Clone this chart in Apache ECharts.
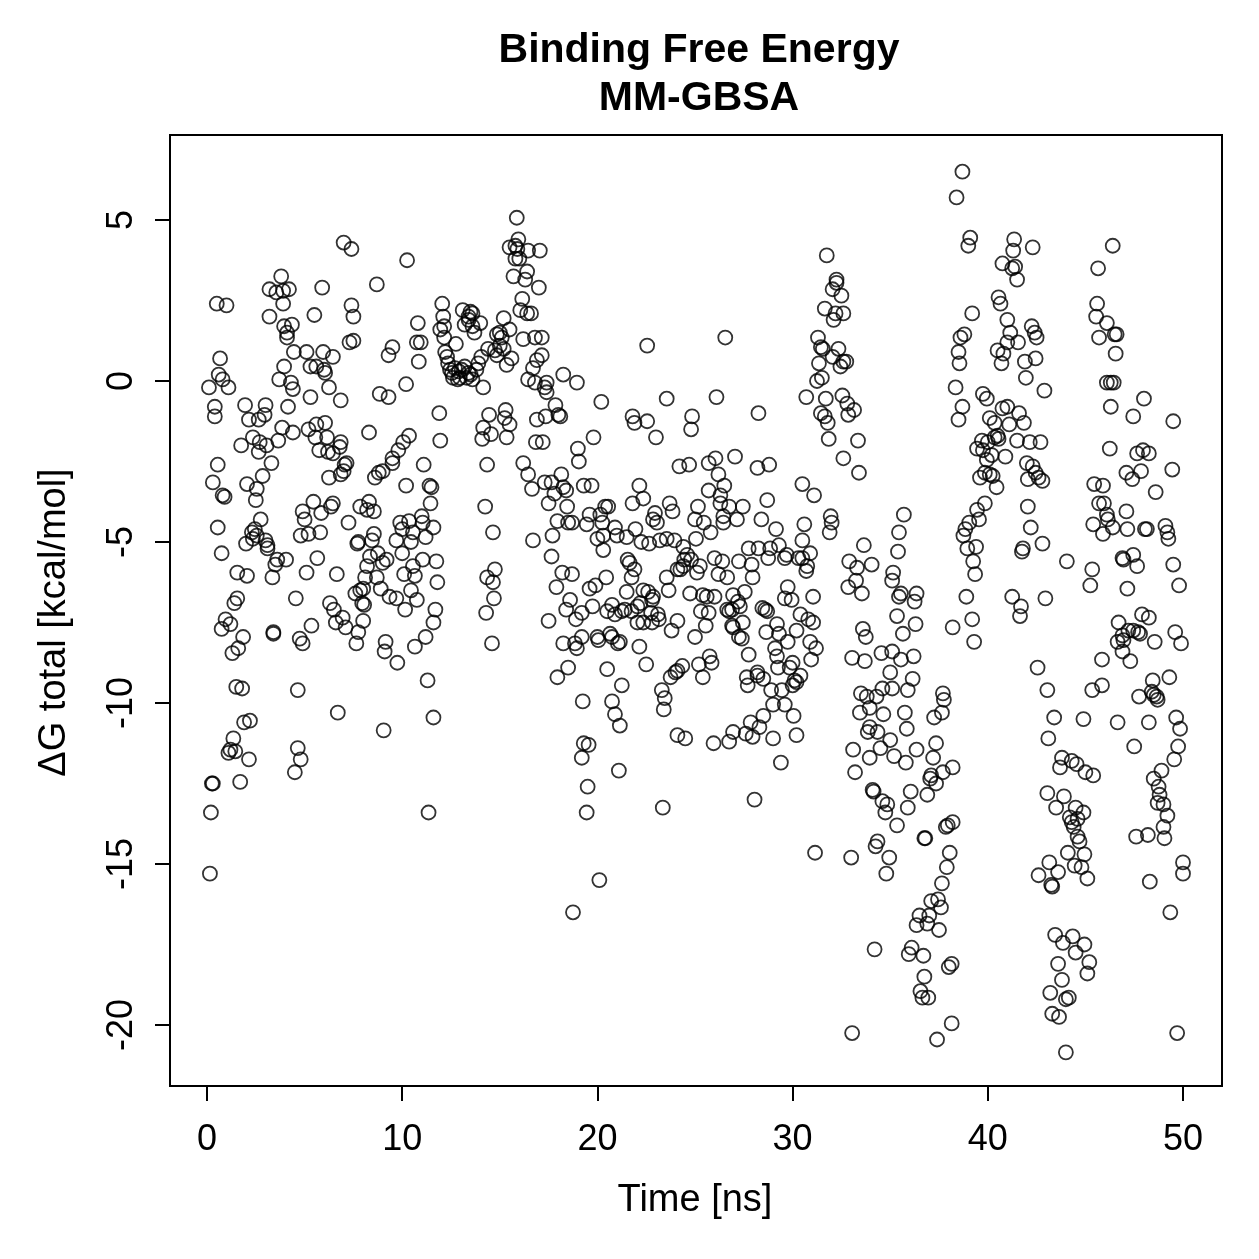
<!DOCTYPE html>
<html>
<head>
<meta charset="utf-8">
<title>Binding Free Energy MM-GBSA</title>
<script src="https://cdn.jsdelivr.net/npm/echarts@6/dist/echarts.min.js"></script>
<style>
  html, body { margin: 0; padding: 0; background: #fff; }
  #chart { width: 1259px; height: 1259px; }
</style>
</head>
<body>
<div id="chart"></div>
<script>
// [time ns, dG total kcal/mol], split by 10 ns windows
const frames0to10 = [
  [7.0,4.3],[7.4,4.1],[3.8,3.25],[3.2,2.85],[3.55,2.75],[3.9,2.8],[4.2,2.85],[3.9,2.4],[5.9,2.9],[8.7,3.0],
  [0.5,2.4],[1.0,2.35],[3.2,2.0],[5.5,2.05],[7.4,2.35],[7.5,2.0],[3.95,1.7],[4.35,1.75],[4.1,1.5],[4.1,1.35],
  [7.3,1.2],[7.5,1.25],[9.5,1.05],[9.3,0.8],[0.67,0.7],[0.6,0.2],[0.8,0.05],[1.1,-0.2],[0.1,-0.2],[4.45,0.9],
  [5.1,0.9],[5.95,0.9],[6.45,0.75],[3.95,0.45],[3.7,0.05],[4.3,-0.05],[4.4,-0.25],[5.3,0.45],[5.6,0.45],[6.0,0.35],
  [6.05,0.25],[6.25,-0.2],[6.85,-0.6],[5.3,-0.5],[4.15,-0.8],[8.85,-0.4],[9.3,-0.5],[0.4,-0.8],[0.4,-1.1],[1.95,-0.75],
  [3.0,-0.75],[2.15,-1.2],[2.65,-1.2],[2.95,-1.05],[3.85,-1.45],[4.4,-1.6],[5.2,-1.5],[5.6,-1.35],[6.05,-1.3],[6.15,-1.75],
  [5.55,-1.75],[6.85,-1.9],[6.8,-2.05],[8.3,-1.6],[9.8,-2.15],[2.35,-1.75],[2.7,-1.9],[3.05,-2.0],[2.65,-2.2],[1.75,-2.0],
  [3.65,-1.85],[3.3,-2.55],[5.75,-2.15],[6.2,-2.2],[6.45,-2.25],[7.15,-2.55],[7.05,-2.6],[9.5,-2.4],[9.5,-2.55],[0.55,-2.6],
  [0.3,-3.15],[0.8,-3.55],[0.9,-3.6],[2.05,-3.2],[2.55,-3.35],[2.85,-2.95],[2.5,-3.7],[6.25,-3.0],[6.85,-2.9],[7.0,-2.8],
  [8.6,-3.0],[8.8,-2.85],[9.0,-2.8],[0.55,-4.55],[0.75,-5.35],[2.75,-4.3],[2.3,-4.7],[2.45,-4.6],[2.55,-4.8],[2.35,-4.9],
  [2.0,-5.05],[3.0,-4.95],[3.1,-5.1],[3.1,-5.2],[3.6,-5.55],[4.05,-5.55],[3.5,-5.7],[3.35,-6.1],[1.55,-5.95],[2.05,-6.05],
  [5.45,-3.75],[4.9,-4.05],[5.0,-4.3],[5.85,-4.1],[6.45,-3.8],[6.35,-3.9],[7.25,-4.4],[4.8,-4.8],[5.2,-4.75],[5.8,-4.7],
  [5.65,-5.5],[5.1,-5.95],[6.65,-6.0],[7.85,-3.9],[8.3,-3.75],[8.2,-4.0],[8.55,-4.05],[7.75,-5.0],[7.7,-5.05],[8.55,-4.75],
  [8.45,-4.95],[8.35,-5.45],[8.2,-5.75],[8.75,-5.35],[9.2,-5.55],[9.0,-5.65],[8.1,-6.1],[8.7,-6.1],[9.9,-4.4],[9.7,-4.95],
  [8.9,-6.45],[9.35,-6.7],[9.7,-6.75],[7.6,-6.6],[7.85,-6.5],[8.0,-6.45],[7.95,-6.9],[8.05,-6.95],[6.3,-6.9],[6.5,-7.1],
  [6.95,-7.35],[6.6,-7.5],[7.1,-7.65],[7.75,-7.8],[8.0,-7.45],[4.55,-6.75],[1.55,-6.75],[1.4,-6.9],[0.95,-7.4],[1.2,-7.55],
  [0.75,-7.7],[1.85,-7.95],[1.6,-8.3],[1.3,-8.45],[3.4,-7.8],[3.4,-7.85],[4.75,-8.0],[4.9,-8.15],[5.35,-7.6],[7.65,-8.15],
  [9.15,-8.1],[9.1,-8.4],[9.75,-8.75],[1.5,-9.5],[1.8,-9.55],[4.65,-9.6],[6.7,-10.3],[9.05,-10.85],[1.9,-10.6],[2.2,-10.55],
  [1.35,-11.1],[1.1,-11.55],[1.45,-11.5],[1.2,-11.45],[2.15,-11.75],[4.65,-11.4],[4.8,-11.75],[4.5,-12.15],[0.25,-12.5],[0.3,-12.5],
  [1.7,-12.45],[0.2,-13.4],[0.15,-15.3]
];

const frames10to20 = [
  [10.25,3.75],[10.8,1.8],[10.75,1.2],[10.95,1.2],[10.85,0.6],[10.2,-0.1],[10.35,-1.7],[10.05,-1.9],[11.1,-2.6],[10.2,-3.25],
  [11.4,-3.25],[11.5,-3.3],[11.45,-3.8],[10.0,-4.6],[10.35,-4.35],[10.55,-4.7],[11.0,-4.2],[11.05,-4.4],[11.6,-4.55],[11.2,-4.85],
  [10.45,-5.0],[10.0,-5.35],[11.05,-5.55],[10.55,-5.75],[10.1,-6.0],[10.65,-6.05],[10.45,-6.5],[10.75,-6.8],[10.15,-7.1],[10.65,-8.25],
  [11.2,-7.95],[11.3,-9.3],[11.6,-10.45],[11.75,-5.6],[11.8,-6.25],[11.7,-7.1],[11.6,-7.5],[11.35,-13.4],
  [15.87,5.07],[15.95,4.4],[15.8,4.2],[15.5,4.15],[15.9,4.1],[16.45,4.05],[17.05,4.05],[15.8,3.8],[16.0,3.8],[16.4,3.4],
  [15.7,3.25],[16.3,3.15],[17.0,2.9],[16.15,2.55],[16.05,2.2],[16.4,2.1],[16.6,2.1],[12.05,2.4],[12.1,2.0],[11.95,1.6],
  [12.15,1.7],[12.15,1.35],[13.1,2.2],[13.5,2.15],[13.6,2.1],[13.4,2.0],[13.2,1.75],[13.6,1.7],[14.0,1.8],[13.7,1.5],
  [13.4,1.9],[15.2,1.95],[14.85,1.45],[15.0,1.5],[15.1,1.35],[15.5,1.6],[16.2,1.3],[16.8,1.35],[17.15,1.35],[12.75,1.15],
  [12.2,0.9],[12.3,0.75],[12.35,0.55],[12.45,0.35],[12.6,0.1],[12.85,0.05],[13.05,0.35],[13.2,0.45],[13.3,0.1],[13.6,0.05],
  [13.8,0.35],[13.9,0.55],[14.05,0.75],[14.4,1.0],[14.75,0.95],[15.0,1.1],[15.2,1.0],[14.85,0.8],[15.6,0.7],[15.35,0.5],
  [14.15,-0.2],[12.55,0.25],[12.7,0.4],[12.95,0.1],[13.4,0.25],[12.9,0.3],[13.5,0.2],[16.7,0.4],[16.9,0.65],[17.15,0.8],
  [16.45,0.05],[16.8,-0.05],[17.4,-0.05],[17.3,-0.2],[17.4,-0.35],[18.25,0.2],[18.95,-0.05],[17.85,-0.75],[18.0,-1.05],[18.1,-1.1],
  [11.9,-1.0],[11.95,-1.85],[14.45,-1.05],[15.3,-0.9],[15.25,-1.15],[15.5,-1.35],[15.35,-1.75],[14.15,-1.45],[14.1,-1.8],[14.55,-1.65],
  [16.9,-1.2],[17.35,-1.1],[16.85,-1.9],[17.2,-1.9],[19.8,-1.75],[19.0,-2.1],[19.05,-2.5],[14.35,-2.6],[16.2,-2.55],
  [16.45,-2.9],[16.65,-3.35],[17.3,-3.15],[17.65,-3.15],[18.15,-2.9],[17.8,-3.5],[18.25,-3.3],[18.4,-3.4],[17.5,-3.8],[18.45,-3.9],
  [19.3,-3.25],[19.7,-3.25],[17.95,-4.35],[18.5,-4.4],[18.7,-4.4],[19.45,-4.45],[19.6,-4.15],[17.7,-4.8],[17.65,-5.45],[16.7,-4.95],
  [14.65,-4.7],[14.25,-3.9],[14.35,-6.1],[14.75,-5.85],[14.65,-6.25],[14.7,-6.75],[14.3,-7.2],[14.6,-8.15],[18.2,-5.95],[18.7,-6.0],
  [17.9,-6.4],[19.6,-6.45],[19.9,-6.35],[18.6,-6.8],[18.4,-7.1],[18.9,-7.4],[19.2,-7.2],[17.5,-7.45],[19.75,-7.0],[18.25,-8.15],
  [18.85,-8.15],[18.95,-8.3],[19.2,-7.95],[17.95,-9.2],[18.5,-8.9],[19.25,-9.95],[19.3,-11.25],[19.55,-11.3],[19.2,-11.7],[19.5,-12.6],
  [19.45,-13.4],[18.75,-16.5]
];

const frames20to30 = [
  [20.2,-0.65],[22.55,1.1],[23.55,-0.55],[21.8,-1.1],[21.9,-1.3],[22.55,-1.25],[23.0,-1.75],[24.85,-1.1],[24.8,-1.5],[24.2,-2.65],
  [24.7,-2.6],[26.55,1.35],[26.1,-0.5],[28.25,-1.0],[26.05,-2.4],[25.7,-2.55],[27.05,-2.35],[28.8,-2.6],[28.2,-2.7],
  [22.15,-3.25],[22.35,-3.65],[21.8,-3.8],[23.7,-3.8],[23.85,-4.05],[22.95,-4.1],[23.05,-4.4],[22.85,-4.3],[20.15,-4.15],[20.25,-4.4],
  [20.4,-3.9],[20.55,-3.9],[20.9,-4.55],[21.0,-4.8],[21.5,-4.85],[21.95,-4.6],[22.25,-5.0],[22.65,-5.05],[20.0,-4.9],[20.3,-4.8],
  [20.3,-5.25],[23.2,-4.95],[23.55,-4.9],[23.95,-4.95],[24.4,-5.15],[24.6,-5.4],[24.45,-5.55],[24.8,-5.55],[24.25,-5.85],[24.4,-5.75],
  [24.1,-5.85],[23.55,-6.1],[24.75,-6.6],[21.55,-5.55],[21.65,-5.65],[21.9,-5.85],[21.75,-6.1],[20.45,-6.1],[21.5,-6.55],[22.35,-6.5],
  [22.6,-6.55],[22.85,-6.7],[22.8,-6.8],[23.65,-6.5],[20.5,-7.15],[20.75,-6.95],[20.9,-7.25],[21.25,-7.15],[21.4,-7.1],[21.75,-7.15],
  [22.05,-7.0],[22.2,-6.9],[22.05,-7.5],[22.35,-7.5],[22.8,-7.5],[22.75,-7.2],[23.1,-7.25],[23.15,-7.4],[24.1,-7.45],[23.8,-7.75],
  [20.0,-7.95],[20.05,-8.05],[20.65,-7.85],[20.75,-7.95],[21.15,-8.1],[21.05,-8.15],[22.15,-8.25],[22.5,-8.8],[20.5,-8.95],[21.25,-9.45],
  [24.1,-9.0],[24.0,-9.05],[23.75,-9.2],[24.35,-8.85],[23.3,-9.6],[23.45,-9.85],[23.4,-10.2],[20.75,-9.95],[20.9,-10.35],[21.15,-10.7],
  [24.1,-11.0],[24.5,-11.1],[21.1,-12.1],
  [26.2,-2.9],[25.7,-3.4],[26.5,-3.25],[26.3,-3.55],[26.3,-3.8],[26.75,-3.9],[27.45,-3.9],[26.45,-4.2],[25.15,-3.9],[25.0,-4.3],
  [25.45,-4.4],[27.15,-4.3],[26.45,-4.4],[25.8,-4.7],[28.7,-3.7],[28.4,-4.3],[29.15,-4.6],[25.05,-4.9],[27.75,-5.2],[28.25,-5.2],
  [28.85,-5.2],[29.3,-5.1],[29.7,-5.4],[29.6,-5.5],[28.75,-5.5],[27.25,-5.6],[27.9,-5.7],[27.95,-6.1],[26.0,-5.5],[26.4,-5.6],
  [25.25,-5.75],[25.1,-5.95],[26.2,-6.0],[26.65,-6.1],[25.4,-6.65],[25.6,-6.7],[26.0,-6.7],[26.95,-6.65],[27.55,-6.55],[27.2,-6.85],
  [27.3,-7.0],[26.65,-7.1],[26.75,-7.15],[26.9,-7.1],[25.3,-7.15],[25.7,-7.2],[25.55,-7.6],[25.0,-7.95],[26.9,-7.6],[26.95,-7.65],
  [27.45,-7.5],[27.25,-7.95],[27.4,-8.0],[28.45,-7.05],[28.6,-7.1],[28.7,-7.15],[29.75,-6.4],[29.6,-6.75],[29.95,-6.8],[29.2,-7.55],
  [29.3,-7.85],[28.65,-7.8],[29.75,-8.1],[29.1,-8.3],[29.2,-8.55],[29.25,-8.9],[29.85,-8.9],[27.75,-8.5],[25.2,-8.8],[25.85,-8.75],
  [25.75,-8.55],[25.4,-9.2],[27.65,-9.2],[27.7,-9.45],[28.2,-9.05],[28.2,-9.15],[28.5,-9.25],[28.9,-9.6],[29.45,-9.6],[29.0,-10.05],
  [29.6,-10.05],[28.5,-10.4],[27.85,-10.6],[28.3,-10.75],[27.6,-10.95],[27.95,-11.05],[26.95,-10.9],[26.75,-11.2],[25.95,-11.25],[29.0,-11.1],
  [29.4,-11.85],[20.1,-15.5],[23.35,-13.25],[28.05,-13.0]
];

const frames30to40 = [
  [31.75,3.9],[32.25,3.15],[32.25,3.05],[32.05,2.85],[32.5,2.65],[31.65,2.25],[32.2,2.1],[32.6,2.1],[32.1,1.9],[31.3,1.35],
  [31.45,1.05],[31.55,1.0],[32.35,1.0],[32.05,0.75],[32.6,0.6],[32.75,0.6],[32.45,0.45],[31.35,0.55],[31.5,0.1],[31.25,0.0],
  [30.7,-0.5],[31.7,-0.55],[32.55,-0.45],[32.8,-0.7],[33.15,-0.9],[32.85,-1.05],[31.45,-1.0],[31.65,-1.1],[31.8,-1.3],[31.85,-1.8],
  [33.35,-1.85],[32.6,-2.4],
  [38.7,6.5],[38.4,5.7],[39.1,4.45],[39.0,4.2],[39.2,2.1],[38.8,1.45],[38.6,1.35],[38.5,0.9],[38.55,0.55],[38.35,-0.2],
  [38.7,-0.8],[38.5,-1.2],[39.75,-0.4],[39.95,-0.55],[39.7,-1.85],[39.45,-2.1],[39.75,-2.15],[39.95,-2.45],
  [33.4,-2.85],[30.5,-3.2],[31.1,-3.55],[31.95,-4.2],[32.0,-4.4],[31.9,-4.7],[30.6,-4.45],[35.7,-4.15],[35.45,-4.7],[35.4,-5.3],
  [33.65,-5.1],[34.05,-5.7],[32.9,-5.6],[33.3,-5.8],[33.25,-6.2],[32.85,-6.4],[33.55,-6.6],[30.5,-4.95],[30.9,-5.35],[30.5,-5.5],
  [30.75,-5.75],[30.7,-5.9],[30.3,-5.5],[31.05,-6.7],[30.4,-7.25],[30.8,-7.4],[31.05,-7.5],[30.2,-7.75],[30.9,-8.1],[31.2,-8.3],
  [30.95,-8.65],[30.0,-8.75],[30.4,-9.15],[30.1,-9.3],[30.0,-9.45],[30.2,-9.35],[30.05,-10.4],[30.2,-11.0],[33.6,-7.7],[33.75,-7.95],
  [33.05,-8.6],[33.7,-8.7],[34.55,-8.45],[35.1,-8.4],[35.55,-8.65],[36.2,-8.55],[35.0,-9.05],[36.15,-9.25],[35.9,-9.6],[35.1,-9.55],
  [34.6,-9.55],[33.5,-9.7],[33.8,-9.8],[34.3,-9.8],[33.95,-10.15],[33.45,-10.3],[34.65,-10.35],[35.75,-10.3],[35.85,-10.8],[35.0,-11.15],
  [34.5,-11.4],[35.2,-11.65],[35.8,-11.85],[33.95,-10.75],[33.85,-10.9],[34.35,-10.9],[33.1,-11.45],[33.95,-11.7],[33.2,-12.15],[37.35,-11.25],
  [37.2,-11.7],[37.1,-12.25],[37.7,-12.15],[38.2,-12.0],[37.65,-10.3],[37.25,-10.45],[37.75,-9.9],[37.7,-9.7],[38.2,-7.65],[36.35,-11.45],
  [35.15,-5.95],[35.1,-6.2],[35.55,-6.6],[35.45,-6.7],[36.35,-6.6],[36.25,-6.85],[35.35,-7.3],[36.3,-7.55],[35.65,-7.85],
  [39.6,-3.0],[39.85,-2.85],[39.85,-3.8],[39.45,-4.0],[39.55,-4.3],[39.05,-4.4],[38.85,-4.6],[38.75,-4.8],[38.95,-5.2],[39.4,-5.15],
  [39.25,-5.6],[39.35,-6.0],[38.9,-6.7],[39.2,-7.4],[39.3,-8.1],
  [31.15,-14.65],[33.0,-14.8],[34.1,-12.7],[34.15,-12.75],[34.6,-13.05],[34.85,-13.15],[34.75,-13.4],[35.35,-13.8],[36.05,-12.75],[35.9,-13.25],
  [36.9,-12.85],[37.05,-12.35],[37.35,-12.5],[34.35,-14.3],[34.25,-14.45],[34.95,-14.8],[34.8,-15.3],[36.75,-14.2],[36.8,-14.2],[37.85,-13.85],
  [37.95,-13.8],[38.2,-13.7],[38.05,-14.65],[37.9,-15.1],[37.65,-15.6],[37.1,-16.15],[37.45,-16.1],[37.6,-16.35],[37.0,-16.6],[36.5,-16.6],
  [36.35,-16.9],[36.9,-16.85],[37.5,-17.05],[36.1,-17.6],[35.95,-17.8],[36.7,-17.85],[34.2,-17.65],[38.15,-18.1],[38.0,-18.2],[36.75,-18.5],
  [36.55,-18.95],[36.65,-19.15],[36.95,-19.15],[33.05,-20.25],[37.4,-20.45],[38.15,-19.95]
];

const frames40to50 = [
  [41.35,4.4],[41.3,4.05],[42.3,4.15],[40.75,3.65],[41.4,3.55],[41.25,3.5],[41.5,3.15],[46.4,4.2],[45.65,3.5],[40.55,2.6],
  [40.65,2.4],[41.0,1.9],[45.6,2.4],[45.55,2.0],[46.1,1.8],[45.7,1.35],[46.5,1.45],[46.6,1.45],[46.55,0.85],[42.25,1.7],
  [42.4,1.5],[42.5,1.35],[41.15,1.5],[41.0,1.2],[41.55,1.2],[40.5,0.95],[40.8,0.85],[40.7,0.55],[41.9,0.6],[42.45,0.7],
  [41.95,0.1],[42.9,-0.3],[40.1,-1.15],[40.35,-1.3],[40.75,-0.85],[41.0,-0.8],[41.1,-1.35],[41.6,-1.0],[41.85,-1.3],[40.0,-1.9],
  [40.35,-1.75],[40.5,-1.7],[40.55,-1.8],[40.2,-2.3],[40.9,-2.35],[41.5,-1.85],[42.15,-1.9],[42.7,-1.9],[42.0,-2.55],[42.3,-2.65],
  [46.3,-0.05],[46.1,-0.05],[46.45,-0.05],[46.3,-0.8],[48.0,-0.55],[47.45,-1.1],[49.5,-1.25],[46.25,-2.1],[47.65,-2.25],[47.95,-2.15],
  [48.25,-2.25],
  [42.45,-2.85],[42.6,-3.0],[42.8,-3.1],[42.05,-3.05],[40.1,-2.9],[40.25,-2.95],[40.45,-3.3],[42.05,-3.9],[42.2,-4.55],[41.8,-5.2],
  [41.75,-5.3],[42.8,-5.05],[44.05,-5.6],[45.45,-3.2],[45.9,-3.25],[45.7,-3.8],[45.95,-3.8],[46.1,-4.15],[46.15,-4.3],[45.4,-4.45],
  [45.9,-4.75],[46.4,-4.55],[47.1,-4.05],[47.15,-4.6],[48.05,-4.6],[48.15,-4.6],[47.1,-2.85],[47.4,-3.05],[47.85,-2.8],[48.6,-3.45],
  [49.45,-2.75],[49.1,-4.5],[49.2,-4.7],[49.25,-4.9],[47.45,-5.4],[46.9,-5.5],[46.95,-5.55],[47.65,-5.75],[49.5,-5.7],[45.35,-5.85],
  [45.25,-6.35],[47.15,-6.45],[49.8,-6.35],[41.25,-6.7],[41.7,-7.0],[41.65,-7.3],[42.95,-6.75],[47.9,-7.25],[48.25,-7.35],[46.7,-7.5],
  [47.2,-7.75],[47.45,-7.75],[47.7,-7.8],[47.8,-7.85],[46.9,-7.9],[46.65,-8.1],[46.95,-8.05],[46.9,-8.4],[47.3,-8.7],[48.55,-8.1],
  [49.6,-7.8],[49.9,-8.15],[45.85,-8.65],[42.55,-8.9],[43.05,-9.6],[45.35,-9.6],[45.85,-9.45],[48.45,-9.3],[49.3,-9.2],[47.75,-9.8],
  [48.4,-9.65],[48.65,-9.8],[48.7,-9.9],[48.5,-9.75],[43.4,-10.45],[43.1,-11.1],[44.9,-10.5],[46.65,-10.6],[48.25,-10.6],[49.65,-10.45],
  [49.85,-10.8],[49.75,-11.35],[49.55,-11.75],[47.5,-11.35],[43.8,-11.7],[43.7,-12.0],[44.3,-11.8],[44.55,-11.9],[45.0,-12.15],[45.4,-12.25],
  [48.9,-12.1],[48.5,-12.35],
  [48.75,-12.6],[48.8,-12.85],[48.7,-13.1],[49.0,-13.15],[49.2,-13.5],[49.0,-13.85],[49.05,-14.2],[48.2,-14.1],[47.6,-14.15],[50.0,-14.95],
  [50.0,-15.3],[48.3,-15.55],[49.35,-16.5],[49.7,-20.25],[43.05,-12.8],[43.9,-12.9],[43.5,-13.25],[44.5,-13.25],[44.9,-13.4],[44.2,-13.55],
  [44.3,-13.7],[44.6,-13.6],[44.4,-13.85],[44.6,-14.15],[44.7,-14.3],[44.1,-14.65],[44.95,-14.7],[44.45,-15.05],[44.8,-15.1],[45.1,-15.45],
  [43.15,-14.95],[43.6,-15.25],[42.6,-15.35],[43.25,-15.65],[43.3,-15.7],[43.45,-17.2],[43.85,-17.45],[44.35,-17.25],[44.95,-17.5],[44.5,-17.75],
  [45.2,-18.05],[45.1,-18.4],[43.6,-18.1],[43.8,-18.6],[43.2,-19.0],[44.0,-19.2],[44.15,-19.15],[43.3,-19.65],[43.65,-19.75],[44.0,-20.85]
];

const xTicks = { min: 0, max: 50, step: 10 };
const yTicks = { min: -20, max: 5, step: 5 };

const allFrames = [].concat(frames0to10, frames10to20, frames20to30, frames30to40, frames40to50);

const FONT = '"Liberation Sans", Arial, Helvetica, sans-serif';

const chart = echarts.init(document.getElementById('chart'), null, { renderer: 'canvas' });

const option = {
  animation: false,
  backgroundColor: '#fff',
  title: {
    text: 'Binding Free Energy\nMM-GBSA',
    left: 694,
    top: 22,
    textAlign: 'center',
    textStyle: {
      fontFamily: FONT,
      fontWeight: 'bold',
      fontSize: 41,
      lineHeight: 48,
      color: '#000'
    }
  },
  grid: [
    // data region: 0..50 ns and -20..5 kcal/mol
    { left: 207, top: 220, width: 976, height: 805, show: false },
    // the frame round the plot
    { left: 170, top: 135, width: 1052, height: 951, show: true,
      borderColor: '#000', borderWidth: 2, backgroundColor: 'transparent' }
  ],
  xAxis: [
    {
      gridIndex: 0,
      type: 'value',
      min: xTicks.min,
      max: xTicks.max,
      interval: xTicks.step,
      offset: 61,
      name: 'Time [ns]',
      nameLocation: 'middle',
      nameGap: 96,
      nameTextStyle: { fontFamily: FONT, fontSize: 38, color: '#000' },
      axisLine: { show: true, onZero: false, lineStyle: { color: '#000', width: 2 } },
      axisTick: { show: true, inside: false, length: 15, lineStyle: { color: '#000', width: 2 } },
      axisLabel: { fontFamily: FONT, fontSize: 36, color: '#000', margin: 36 },
      splitLine: { show: false }
    },
    { gridIndex: 1, type: 'value', show: false, min: 0, max: 1 }
  ],
  yAxis: [
    {
      gridIndex: 0,
      type: 'value',
      min: yTicks.min,
      max: yTicks.max,
      interval: yTicks.step,
      offset: 37,
      name: 'ΔG total [kcal/mol]',
      nameLocation: 'middle',
      nameRotate: 90,
      nameGap: 96,
      nameTextStyle: { fontFamily: FONT, fontSize: 38, color: '#000' },
      axisLine: { show: true, onZero: false, lineStyle: { color: '#000', width: 2 } },
      axisTick: { show: true, inside: false, length: 15, lineStyle: { color: '#000', width: 2 } },
      axisLabel: { fontFamily: FONT, fontSize: 36, color: '#000', margin: 30, rotate: 90 },
      splitLine: { show: false }
    },
    { gridIndex: 1, type: 'value', show: false, min: 0, max: 1 }
  ],
  series: [
    {
      type: 'scatter',
      xAxisIndex: 0,
      yAxisIndex: 0,
      clip: false,
      symbol: 'circle',
      symbolSize: 14,
      itemStyle: { color: 'rgba(0,0,0,0)', borderColor: '#000', borderWidth: 1.8 },
      emphasis: { disabled: true },
      data: allFrames
    }
  ]
};

chart.setOption(option);
</script>
</body>
</html>
